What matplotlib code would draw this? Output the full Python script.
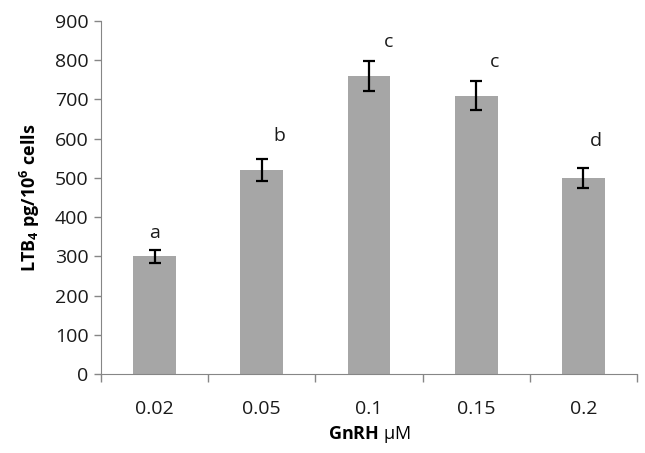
import numpy as np
import matplotlib.pyplot as plt

plt.rcParams['font.family'] = ['Open Sans', 'DejaVu Sans']
plt.rcParams['mathtext.fontset'] = 'custom'
plt.rcParams['mathtext.rm'] = 'Open Sans'
plt.rcParams['mathtext.bf'] = 'Open Sans:bold'

# data ---------------------------------------------------------------
dosis = ['0.02', '0.05', '0.1', '0.15', '0.2']
ltb4 = [300, 520, 760, 710, 500]
err = [16, 27, 38, 37, 25]
letras = ['a', 'b', 'c', 'c', 'd']
letra_y = [360, 607, 846, 796, 594]
letra_dx = [0.0, 0.16, 0.18, 0.17, 0.12]

x = np.arange(len(dosis))

fig = plt.figure(figsize=(6.45, 4.53), dpi=100)
ax = fig.add_axes([0.1566, 0.1744, 0.831, 0.7792])

ax.bar(x, ltb4, width=0.4, color='#a6a6a6', zorder=2)
ax.errorbar(x, ltb4, yerr=err, fmt='none', ecolor='black', elinewidth=1.6,
            capsize=4.5, capthick=1.6, zorder=3)

for i, l in enumerate(letras):
    ax.text(x[i] + letra_dx[i], letra_y[i], l, ha='center', va='center',
            fontsize=14, color='#1a1a1a')

ax.set_xlim(-0.5, len(dosis) - 0.5)
ax.set_ylim(0, 900)
ax.set_yticks(np.arange(0, 901, 100))
ax.set_xticks(np.arange(-0.5, len(dosis), 1.0))
ax.set_xticklabels([])
ax.set_xticks(x, minor=True)
ax.set_xticklabels(dosis, minor=True)
ax.tick_params(axis='x', which='major', length=6, color='#868686', width=1)
ax.tick_params(axis='x', which='minor', length=0, pad=19, labelsize=14,
               labelcolor='#1a1a1a')
ax.tick_params(axis='y', length=5, color='#868686', width=1, labelsize=14,
               labelcolor='#1a1a1a', pad=4)

for s in ['top', 'right']:
    ax.spines[s].set_visible(False)
for s in ['left', 'bottom']:
    ax.spines[s].set_color('#868686')

ax.set_ylabel(r'LTB$_\mathbf{4}$ pg/10$^\mathbf{6}$ cells', fontsize=13,
              fontweight='bold', labelpad=9)
ax.set_xlabel(r'$\mathbf{GnRH}$ µM', fontsize=13, labelpad=4)

fig.savefig('out.png', dpi=100)
